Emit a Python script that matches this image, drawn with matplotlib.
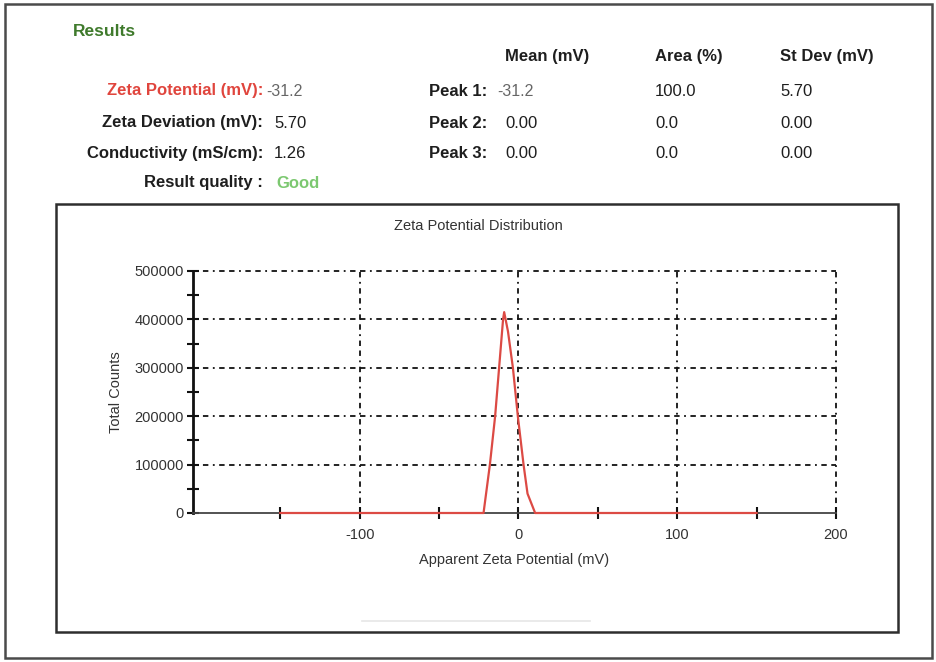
import matplotlib
matplotlib.use("Agg")
import matplotlib.pyplot as plt
from matplotlib.patches import Rectangle
from matplotlib.lines import Line2D

# ---------------- data ----------------
result_labels = ["Zeta Potential (mV):", "Zeta Deviation (mV):", "Conductivity (mS/cm):", "Result quality :"]
result_values = ["-31.2", "5.70", "1.26", "Good"]
peak_names = ["Peak 1:", "Peak 2:", "Peak 3:"]
peak_mean = ["-31.2", "0.00", "0.00"]
peak_area = ["100.0", "0.0", "0.0"]
peak_stdev = ["5.70", "0.00", "0.00"]
table_headers = ["Mean (mV)", "Area (%)", "St Dev (mV)"]

zeta_mv = [-150, -22, -18, -14.7, -12.2, -9.7, -9.0, -6.6, -3.5, -0.4, 3.2, 5.7, 10.5, 150]
total_counts = [0, 0, 100000, 200000, 300000, 400000, 415000, 375000, 300000, 200000, 100000, 40000, 0, 0]

x_major = [-100, 0, 100, 200]
x_minor = [-150, -50, 50, 150]
y_major = [0, 100000, 200000, 300000, 400000, 500000]
y_minor = [50000, 150000, 250000, 350000, 450000]

W, H = 936, 662
FONT = "Liberation Sans"

def fx(px):
    return px / W

def fy(py):
    return 1 - py / H

fig = plt.figure(figsize=(W / 100, H / 100), dpi=100)
fig.patch.set_facecolor("white")

# outer and inner frames
fig.add_artist(Rectangle((fx(5), fy(658)), fx(932) - fx(5), fy(4) - fy(658),
                         transform=fig.transFigure, fill=False, ec="#4a4a4a", lw=1.8))
fig.add_artist(Rectangle((fx(56), fy(632)), fx(898) - fx(56), fy(204) - fy(632),
                         transform=fig.transFigure, fill=False, ec="#2e2e2e", lw=1.8))
fig.add_artist(Line2D([fx(362), fx(590)], [fy(621), fy(621)], transform=fig.transFigure,
                      color="#e6e6e6", lw=1.2))

# ---------------- header texts ----------------
fig.text(fx(73), fy(32), "Results", color="#3f7a2c", fontsize=12.5, fontweight="bold",
         family=FONT, va="center", ha="left")

row_y = [91, 123, 154, 183]
label_colors = ["#e0453d", "#1e1e1e", "#1e1e1e", "#1e1e1e"]
for lab, val, yy, c in zip(result_labels, result_values, row_y, label_colors):
    fig.text(fx(263), fy(yy), lab, color=c, fontsize=12, fontweight="bold", family=FONT,
             va="center", ha="right")
for i, (val, yy) in enumerate(zip(result_values, row_y)):
    if i == 0:
        fig.text(fx(266), fy(yy), val, color="#666666", fontsize=11.5, family=FONT, va="center", ha="left")
    elif i == 3:
        fig.text(fx(276), fy(yy), val, color="#7cc870", fontsize=12, fontweight="bold", family=FONT,
                 va="center", ha="left")
    else:
        fig.text(fx(274), fy(yy), val, color="#1e1e1e", fontsize=12, family=FONT, va="center", ha="left")

header_x = [505, 655, 780]
for hx, h in zip(header_x, table_headers):
    fig.text(fx(hx), fy(57), h, color="#1e1e1e", fontsize=12, fontweight="bold", family=FONT,
             va="center", ha="left")

peak_y = [91, 123, 153]
for i, (nm, m, a, s, yy) in enumerate(zip(peak_names, peak_mean, peak_area, peak_stdev, peak_y)):
    fig.text(fx(429), fy(yy), nm, color="#1e1e1e", fontsize=12, fontweight="bold", family=FONT,
             va="center", ha="left")
    if i == 0:
        fig.text(fx(497), fy(yy), m, color="#666666", fontsize=11.5, family=FONT, va="center", ha="left")
    else:
        fig.text(fx(505), fy(yy), m, color="#1e1e1e", fontsize=12, family=FONT, va="center", ha="left")
    fig.text(fx(655), fy(yy), a, color="#1e1e1e", fontsize=12, family=FONT, va="center", ha="left")
    fig.text(fx(780), fy(yy), s, color="#1e1e1e", fontsize=12, family=FONT, va="center", ha="left")

# ---------------- chart ----------------
ax = fig.add_axes([fx(193), fy(513), fx(836) - fx(193), fy(271) - fy(513)])
ax.set_xlim(-205, 200)
ax.set_ylim(0, 500000)

grid_style = dict(color="#111111", lw=1.3, linestyle=(0, (3, 2.5, 3, 2.5, 1, 2.5)), zorder=1)
for t in y_major[1:]:
    ax.axhline(t, clip_on=False, **grid_style)
for t in x_major:
    ax.axvline(t, clip_on=False, **grid_style)

ax.plot(zeta_mv, total_counts, color="#dc4a44", lw=1.6, zorder=3, clip_on=False)

for side in ["top", "right"]:
    ax.spines[side].set_visible(False)
ax.spines["left"].set_linewidth(2.0)
ax.spines["left"].set_color("#111111")
ax.spines["bottom"].set_linewidth(1.3)
ax.spines["bottom"].set_color("#444444")

ax.set_xticks(x_major)
ax.set_xticks(x_minor, minor=True)
ax.set_yticks(y_major)
ax.set_yticks(y_minor, minor=True)
ax.set_xticklabels([str(v) for v in x_major])
ax.set_yticklabels([str(v) for v in y_major])
ax.tick_params(axis="both", which="both", direction="inout", length=9, width=1.5, color="#111111")
ax.tick_params(axis="both", which="major", labelsize=10.5, labelcolor="#333333", pad=2)
for lbl in ax.get_xticklabels() + ax.get_yticklabels():
    lbl.set_family(FONT)
ax.tick_params(axis="x", which="major", pad=6)

ax.set_xlabel("Apparent Zeta Potential (mV)", fontsize=10.5, family=FONT, color="#333333", labelpad=8)
ax.set_ylabel("Total Counts", fontsize=10.5, family=FONT, color="#333333", labelpad=8)
ax.set_facecolor("none")

fig.text(fx(478), fy(226), "Zeta Potential Distribution", fontsize=10.5, family=FONT,
         color="#333333", ha="center", va="center")

fig.savefig("out.png", dpi=100, facecolor="white")
